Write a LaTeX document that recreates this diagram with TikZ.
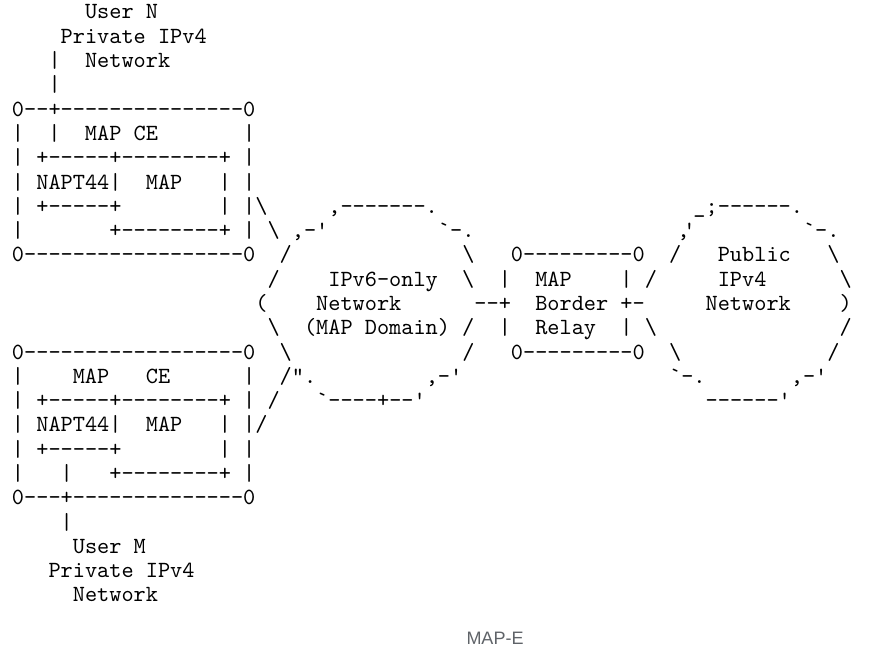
\documentclass[tikz,border=0pt]{standalone}
\usepackage{fontspec}
\newfontfamily\asc{lmmono10-regular.otf}
\newfontfamily\capfont{Liberation Sans}
\newlength\cw
\setlength\cw{12.1695pt}
\newcommand\sk[1]{\hspace*{#1\cw}}
\ExplSyntaxOn
\NewDocumentCommand\dsh{m}{\prg_replicate:nn{#1}{-}}
\ExplSyntaxOff
\newcommand\bk{\textbackslash}
\newcommand\cq{\rlap{\kern-4pt,}\rlap{\kern2pt'}\sk{1}}
\definecolor{capgray}{HTML}{5F6368}
\tikzset{
  row/.style={anchor=base west, inner sep=0pt, outer sep=0pt,
    font={\asc\fontsize{23.18pt}{24pt}\selectfont}, text=black},
  caption/.style={inner sep=0pt, font={\capfont\fontsize{18pt}{20pt}\selectfont}, text=capgray}
}
\newcommand\R[3]{\node[row] (#1) at (12pt,{-19pt-24.29pt*#2}) {#3};}
\begin{document}
\begin{tikzpicture}
\useasboundingbox (0,0) rectangle (870pt,-658pt);
\R{r0}{0}{\sk{6}User\sk{1}N}
\R{r1}{1}{\sk{4}Private\sk{1}IPv4}
\R{r2}{2}{\sk{3}|\sk{2}Network}
\R{r3}{3}{\sk{3}|}
\R{r4}{4}{0\dsh{2}+\dsh{15}0}
\R{r5}{5}{|\sk{2}|\sk{2}MAP\sk{1}CE\sk{7}|}
\R{r6}{6}{|\sk{1}+\dsh{5}+\dsh{8}+\sk{1}|}
\R{r7}{7}{|\sk{1}NAPT44|\sk{2}MAP\sk{3}|\sk{1}|}
\R{r8}{8}{|\sk{1}+\dsh{5}+\sk{8}|\sk{1}|\bk\sk{5},\dsh{7}.\sk{21}\_;\dsh{6}.}
\R{r9}{9}{|\sk{7}+\dsh{8}+\sk{1}|\sk{1}\bk\sk{1},-'\sk{9}`-.\sk{17}\cq\sk{9}`-.}
\R{r10}{10}{0\dsh{18}0\sk{2}/\sk{14}\bk\sk{3}0\dsh{9}0\sk{2}/\sk{3}Public\sk{3}\bk}
\R{r11}{11}{\sk{21}/\sk{4}IPv6-only\sk{2}\bk\sk{2}|\sk{2}MAP\sk{4}|\sk{1}/\sk{5}IPv4\sk{6}\bk}
\R{r12}{12}{\sk{20}(\sk{4}Network\sk{6}--+\sk{2}Border\sk{1}+-\sk{5}Network\sk{4})}
\R{r13}{13}{\sk{21}\bk\sk{2}(MAP\sk{1}Domain)\sk{1}/\sk{2}|\sk{2}Relay\sk{2}|\sk{1}\bk\sk{15}/}
\R{r14}{14}{0\dsh{18}0\sk{2}\bk\sk{14}/\sk{3}0\dsh{9}0\sk{2}\bk\sk{12}/}
\R{r15}{15}{|\sk{4}MAP\sk{3}CE\sk{6}|\sk{2}/".\sk{9},-'\sk{17}`-.\sk{7},-'}
\R{r16}{16}{|\sk{1}+\dsh{5}+\dsh{8}+\sk{1}|\sk{1}/\sk{3}`\dsh{4}+--'\sk{23}\dsh{6}'}
\R{r17}{17}{|\sk{1}NAPT44|\sk{2}MAP\sk{3}|\sk{1}|/}
\R{r18}{18}{|\sk{1}+\dsh{5}+\sk{8}|\sk{1}|}
\R{r19}{19}{|\sk{3}|\sk{3}+\dsh{8}+\sk{1}|}
\R{r20}{20}{0\dsh{3}+\dsh{14}0}
\R{r21}{21}{\sk{4}|}
\R{r22}{22}{\sk{5}User\sk{1}M}
\R{r23}{23}{\sk{3}Private\sk{1}IPv4}
\R{r24}{24}{\sk{5}Network}
\node[caption] (cap) at (495pt,-638.5pt) {MAP-E};
\end{tikzpicture}
\end{document}
